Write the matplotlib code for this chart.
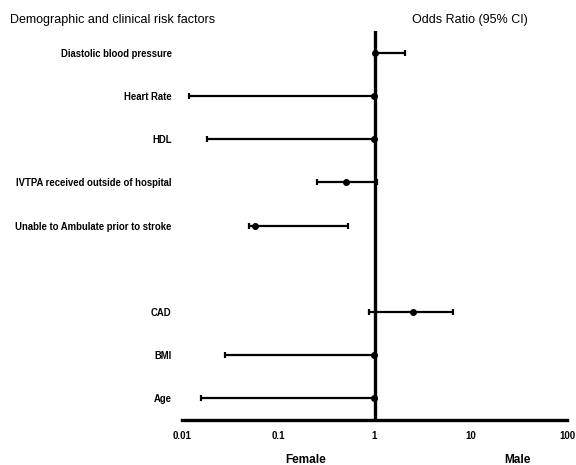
import matplotlib
matplotlib.use("Agg")
import matplotlib.pyplot as plt
import numpy as np

plt.rcParams['font.family'] = ['Liberation Sans', 'DejaVu Sans']

labels = ["Diastolic blood pressure", "Heart Rate", "HDL",
          "IVTPA received outside of hospital", "Unable to Ambulate prior to stroke",
          "CAD", "BMI", "Age"]
positions = [8, 7, 6, 5, 4, 2, 1, 0]
odds = [1.01, 0.99, 0.98, 0.50, 0.057, 2.52, 0.99, 0.99]
lower = [1.00, 0.0117, 0.0184, 0.25, 0.050, 0.87, 0.0277, 0.0159]
upper = [2.05, 1.00, 1.01, 1.05, 0.53, 6.5, 1.02, 1.03]
xticks = [0.01, 0.1, 1, 10, 100]
xticklabels = ["0.01", "0.1", "1", "10", "100"]

fig = plt.figure(figsize=(5.76, 4.65), dpi=100)
ax = fig.add_axes([182/576, (465-419.5)/465, (567-182)/576, (419.5-31.5)/465])

odds_a = np.array(odds)
xerr = np.vstack([odds_a - np.array(lower), np.array(upper) - odds_a])
ax.errorbar(odds, positions, xerr=xerr, fmt='o', color='black', ms=4,
            elinewidth=1.6, capsize=2, capthick=1.6, zorder=3)
ax.axvline(1, color='black', lw=2.4, zorder=2)

ax.set_xscale('log')
ax.set_xlim(0.01, 100)
ax.set_ylim(-0.5, 8.5)
ax.set_xticks(xticks)
ax.set_xticklabels(xticklabels, fontsize=7, fontweight='bold')
ax.minorticks_off()
ax.tick_params(axis='x', length=0, pad=8.5)
ax.set_yticks(positions)
ax.set_yticklabels(labels, fontsize=6.85, fontweight='bold')
ax.tick_params(axis='y', length=0, pad=7.5)

for s in ['top', 'right', 'left']:
    ax.spines[s].set_visible(False)
ax.spines['bottom'].set_linewidth(2.4)

fig.text(10/576, 1 - 20/465, "Demographic and clinical risk factors", fontsize=9,
         ha='left', va='center')
fig.text(470/576, 1 - 20/465, "Odds Ratio (95% CI)", fontsize=9,
         ha='center', va='center')
fig.text(306/576, 1 - 460/465, "Female", fontsize=8.5, fontweight='bold',
         ha='center', va='center')
fig.text(517/576, 1 - 460/465, "Male", fontsize=8.5, fontweight='bold',
         ha='center', va='center')

fig.savefig("out.png", dpi=100)
